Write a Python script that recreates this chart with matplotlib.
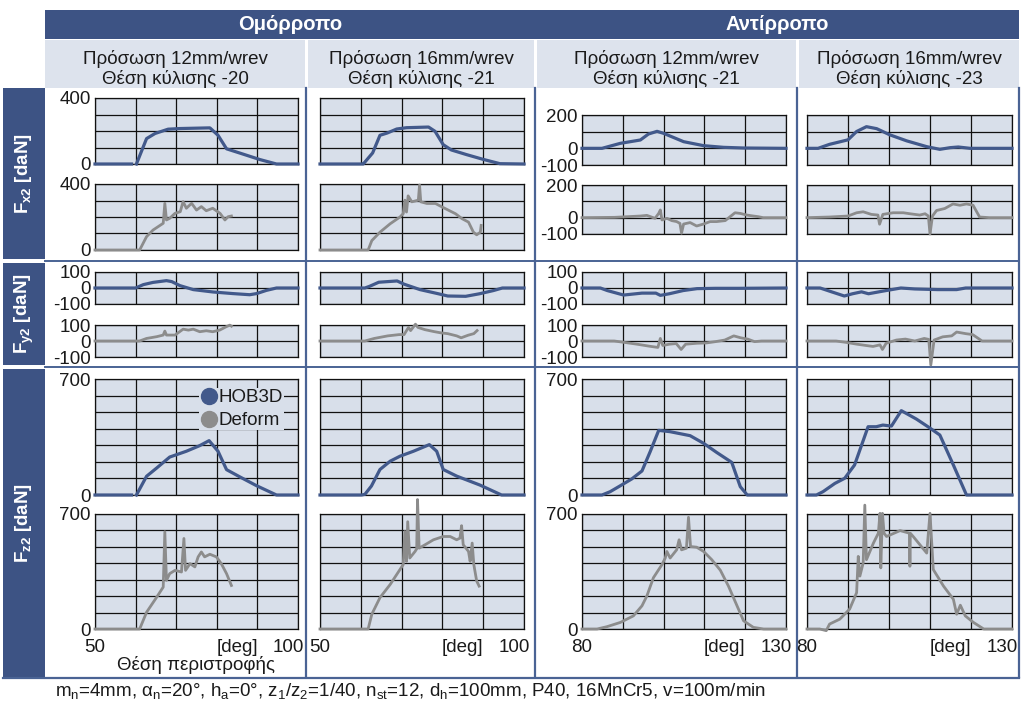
import numpy as np
import matplotlib
matplotlib.use('Agg')
import matplotlib.pyplot as plt
from matplotlib.patches import Rectangle
from matplotlib.lines import Line2D

nan = np.nan

# ---------------- DATA ----------------
group_titles = ['Ομόρροπο', 'Αντίρροπο']
col_titles = [('Πρόσωση 12mm/wrev', 'Θέση κύλισης -20'),
              ('Πρόσωση 16mm/wrev', 'Θέση κύλισης -21'),
              ('Πρόσωση 12mm/wrev', 'Θέση κύλισης -21'),
              ('Πρόσωση 16mm/wrev', 'Θέση κύλισης -23')]
row_labels = [r'$\mathbf{F}_{\mathbf{x2}}$ [daN]', r'$\mathbf{F}_{\mathbf{y2}}$ [daN]',
              r'$\mathbf{F}_{\mathbf{z2}}$ [daN]']
series_names = ['HOB3D', 'Deform']
x_axis_label = 'Θέση περιστροφής'
x_unit = '[deg]'
caption = (r'm$_\mathregular{n}$=4mm, α$_\mathregular{n}$=20°, h$_\mathregular{a}$=0°, '
           r'z$_\mathregular{1}$/z$_\mathregular{2}$=1/40, n$_\mathregular{st}$=12, '
           r'd$_\mathregular{h}$=100mm, P40, 16MnCr5, v=100m/min')

xlims = [(50, 100), (50, 100), (80, 130), (80, 130)]

# Fx2
fx_hob_1_x = [50, 59, nan, 60.2, 62.7, 64.8, 68, 71, 78.3, 80.3, 82.4, 85.7, 90.6, 94.7, 100]
fx_hob_1_y = [0, 0, nan, 0, 154, 185, 211, 215, 219, 174, 92, 66, 27, 0, 0]
fx_def_1_x = [50, 61, 62.7, 64.3, 66.8, 67.2, 67.6, 68.4, 69.7, 71, 71.7, 72.5, 73.8, 75, 76.2,
              77.4, 79, 80.8, 82, 82.8, 83.6]
fx_def_1_y = [0, 0, 81, 121, 162, 283, 182, 192, 222, 232, 293, 253, 283, 242, 263,
              238, 253, 222, 182, 202, 206]
fx_hob_2_x = [50, 60.2, 60.6, 62.9, 64.7, 66.5, 68.8, 71.2, 76.6, 78.2, 80.2, 82.2, 85.9, 90, 94.1, 100]
fx_hob_2_y = [0, 0, 0, 67, 174, 188, 212, 220, 224, 198, 117, 85, 57, 28, 2, 0]
fx_def_2_x = [50, 61.8, 62.7, 64.7, 67.2, 69.6, 70.4, 70.8, 71.2, 71.6, 72.5, 74.1, 74.4, 74.7, 76.2,
              78.3, 79.9, 81.5, 83.2, 84.8, 86.4, 87.6, 88.4, 89.3, 89.5]
fx_def_2_y = [0, 0, 57, 108, 159, 200, 220, 302, 230, 328, 292, 302, 394, 292, 282,
              282, 261, 241, 220, 190, 169, 108, 92, 108, 149]
fx_hob_3_x = [80, 84.9, 89.4, 94.3, 96.3, 98.4, 100, 104.9, 109.8, 114.7, 119.6, 130]
fx_hob_3_y = [0, 0, 30, 50, 86, 102, 90, 40, 16, 6, 2, 0]
fx_def_3_x = [80, 88, 94.3, 95.9, 97.9, 98.8, 99.2, 99.6, 100.8, 102, 103.2, 104, 104.4, 104.9,
              106.5, 108.1, 109.8, 111.4, 113, 115.1, 116.3, 117.5, 118.8, 120.4, 122, 123.2, 124.4, 130]
fx_def_3_y = [0, 2, 10, 14, -4, 26, 47, -14, -4, -18, -24, -35, -95, -39,
              -30, -51, -39, -24, -24, -18, 6, 30, 26, 16, 10, 6, 0, 0]
fx_hob_4_x = [80, 82.7, 85.5, 90, 92.1, 94.5, 97, 100.2, 104.3, 109.2, 112.4, 114.9, 116.9, 119.8, 130]
fx_hob_4_y = [0, 0, 24, 51, 101, 130, 118, 81, 45, 10, -6, 4, 8, 0, 0]
fx_def_4_x = [80, 85.5, 90, 92.1, 93.7, 95.7, 97.3, 97.7, 98.5, 101, 103.5, 105.1, 107.5, 108.8,
              109.6, 110, 110.6, 111.6, 113.6, 115.6, 117.3, 118.9, 120.5, 122.1, 124.5, 130]
fx_def_4_y = [0, 4, 10, 30, 36, 20, 16, -40, 20, 30, 30, 24, 16, 24,
              10, -100, 10, 44, 56, 84, 76, 84, 76, 4, 0, 0]

# Fy2
fy_hob_1_x = [50, 60, 61.9, 64.3, 67.6, 68.9, 70.9, 74.2, 79.1, 84, 88.1, 89.8, 92.2, 94.7, 100]
fy_hob_1_y = [0, 0, 21, 35, 46, 40, 15, -10, -25, -35, -42, -35, -15, 0, 0]
fy_def_1_x = [50, 61, 62.7, 65.2, 66.8, 67.2, 67.6, 69.7, 71.7, 73, 74.2, 75.8, 77.4, 79, 80.7,
              82.3, 83.2, 83.6]
fy_def_1_y = [0, 0, 16, 27, 37, 62, 37, 37, 74, 68, 74, 58, 64, 58, 68, 89, 99, 93]
fy_hob_2_x = [50, 61, 62.1, 64.4, 66.6, 68.9, 70.6, 74.5, 79, 81.3, 85.7, 89.1, 92.5, 94.7, 100]
fy_hob_2_y = [0, 0, 10, 36, 40, 44, 24, -10, -36, -50, -52, -36, -16, 0, 0]
fy_def_2_x = [50, 61, 63.3, 66.6, 69.4, 70.6, 71.7, 72.2, 73.4, 74, 75.7, 77.9, 79.6, 81.3, 83.5,
              84.6, 86.3, 87.7, 88.5]
fy_def_2_y = [0, 0, 16, 32, 40, 40, 85, 65, 105, 85, 71, 59, 51, 46, 32, 20, 36, 46, 65]
fy_hob_3_x = [80, 84.5, 86.2, 90.2, 94.7, 98.1, 99.2, 101.4, 104.8, 108.2, 112.7, 118.4, 130]
fy_hob_3_y = [0, 0, -16, -44, -32, -32, -46, -36, -16, -4, -2, -2, 0]
fy_def_3_x = [80, 87.9, 90.2, 93.5, 96.9, 98.6, 99.2, 99.8, 101.4, 103.1, 104.3, 105.4, 108.2,
              110.5, 112.7, 115, 117.2, 118.9, 120.6, 122.3, 124, 130]
fy_def_3_y = [0, 0, -8, -20, -34, -40, 16, -28, -20, -16, -53, -20, -14,
              -12, -4, 6, 32, 20, 12, -4, 0, 0]
fy_hob_4_x = [80, 83.2, 86, 89.1, 91.1, 93.3, 95, 98.4, 102.9, 106.3, 111.9, 116.5, 118.7, 130]
fy_hob_4_y = [0, 0, -24, -50, -36, -24, -36, -20, 0, -6, -10, -10, 0, 0]
fy_def_4_x = [80, 87.1, 89.4, 92.2, 94.4, 96.1, 97.8, 98.4, 99.3, 101.8, 104, 106.3, 108.6, 109.7,
              110.2, 111, 113.1, 115.3, 116.5, 118.7, 120.4, 122.7, 130]
fy_def_4_y = [0, 0, -8, -20, -28, -34, -24, -53, -14, 6, 12, 0, 16, 10,
              -150, 6, 26, 32, 56, 46, 40, 0, 0]

# Fz2
fz_hob_1_x = [50, 59, nan, 60.2, 62.7, 65.2, 68.4, 72.5, 75.8, 78.1, 80.3, 82.4, 85.7, 89.8, 94.7, 100]
fz_hob_1_y = [0, 0, nan, 0, 113, 163, 229, 264, 298, 328, 264, 153, 109, 56, 0, 0]
fz_def_1_x = [50, 61, 62.7, 65.2, 66.8, 67.2, 67.6, 68.4, 69.7, 71.3, 71.9, 72.3, 73.4, 74.6,
              75.4, 76.2, 77, 78.3, 79.9, 81.1, 82.4, 83.6]
fz_def_1_y = [0, 0, 102, 194, 255, 592, 296, 337, 357, 347, 551, 357, 398, 378,
              439, 469, 439, 455, 439, 398, 337, 265]
fz_hob_2_x = [50, 60.2, 61, 62.6, 64.7, 67.2, 69.6, 72.9, 76.8, 78.6, 80.2, 83.5, 89.2, 94.5, 100]
fz_hob_2_y = [0, 0, 4, 54, 154, 204, 234, 264, 304, 264, 154, 114, 60, 0, 0]
fz_def_2_x = [50, 61.8, 62.7, 64.7, 67.2, 69.6, 70.4, 70.8, 71.2, 71.5, 72, 73.3, 73.7, 73.9,
              74.3, 75.7, 77.8, 80.2, 81.9, 83.5, 84.3, 84.7, 85.1, 86.4, 86.8, 87.3, 87.7, 88.4, 89]
fz_def_2_y = [0, 0, 90, 191, 271, 362, 392, 593, 412, 653, 432, 472, 488, 788,
              492, 512, 543, 563, 563, 543, 553, 629, 513, 472, 412, 523, 392, 292, 261]
fz_hob_3_x = [80, 84.9, 86.9, 89.4, 92.2, 94.7, 96.7, 98.8, 101.6, 106.5, 109.8, 113, 116.7,
              118.8, 120.5, 130]
fz_hob_3_y = [0, 0, 20, 56, 97, 145, 261, 390, 382, 358, 312, 257, 197, 50, 0, 0]
fz_def_3_x = [80, 83.7, 86.1, 89.4, 92.6, 94.7, 95.9, 97.5, 99.6, 100.4, 100.8, 101.6, 103.2,
              103.8, 104.4, 105.6, 106.1, 106.6, 108.1, 109.8, 111.8, 113.9, 115.9, 118, 119.6,
              122, 124.5, 130]
fz_def_3_y = [0, 0, 14, 40, 80, 141, 201, 312, 392, 432, 472, 432, 482,
              543, 482, 492, 680, 502, 498, 472, 422, 358, 261, 141, 50,
              10, 0, 0]
fz_hob_4_x = [80, 82.3, 83.9, 86.8, 89.2, 91.6, 94.9, 96.9, 98.5, 100.6, 103, 106.7, 109.5,
              112.4, 115.7, 118.9, 120.5, 130]
fz_hob_4_y = [0, 0, 20, 70, 101, 181, 412, 412, 422, 416, 509, 458, 412, 362, 181, 0, 0, 0]
fz_def_4_x = [80, 83.1, 84.7, 85.5, 88, 90.4, 92.1, 92.5, 92.9, 93.7, 94.1, 94.5, 96.2, 97.4,
              97.8, 98, 98.4, 98.8, 99.4, 102.7, 105.0, 105.1, 105.2, 105.9, 109.2, 110, 110.8,
              113.3, 115.7, 116.5, 117.4, 118.6, 120.6, 123.1, 130]
fz_def_4_y = [0, 0, -10, 30, 60, 121, 221, 442, 322, 402, 754, 422, 523, 583,
              704, 372, 704, 583, 563, 599, 583, 382, 583, 563, 462, 704, 362,
              261, 181, 90, 145, 80, 40, 0, 0]

# y-axis settings per row (left group / right group)
fx_ticks_a, fx_labels_a = [0, 100, 200, 300, 400], ['0', '', '', '', '400']
fx_ticks_b, fx_labels_b = [-100, 0, 100, 200], ['-100', '0', '', '200']
fy_ticks, fy_labels = [-100, 0, 100], ['-100', '0', '100']
fz_ticks, fz_labels = [0, 100, 200, 300, 400, 500, 600, 700], ['0', '', '', '', '', '', '', '700']

# ---------------- STYLE ----------------
plt.rcParams['font.family'] = ['Liberation Sans', 'DejaVu Sans']
plt.rcParams['mathtext.fontset'] = 'custom'
plt.rcParams['mathtext.rm'] = 'Liberation Sans'
plt.rcParams['mathtext.it'] = 'Liberation Sans:italic'
plt.rcParams['mathtext.bf'] = 'Liberation Sans:bold'

DARK = '#3d5384'
LIGHT = '#dde3ed'
FACE = '#d8dfea'
FRAME = '#4a6394'
HOB_C = '#42598b'
DEF_C = '#8c8c8c'
FS = 13.5

W, H = 1024, 706
fig = plt.figure(figsize=(W / 100, H / 100), dpi=100)
bg = fig.add_axes([0, 0, 1, 1], zorder=0)
bg.set_xlim(0, W)
bg.set_ylim(H, 0)
bg.axis('off')


def rect(x0, y0, x1, y1, color):
    bg.add_patch(Rectangle((x0, y0), x1 - x0, y1 - y0, facecolor=color, edgecolor='none'))


# header bars
rect(45, 10, 1019, 39, DARK)
bg.text(290, 24.5, group_titles[0], color='white', fontsize=14.5, fontweight='bold',
        ha='center', va='center')
bg.text(777, 24.5, group_titles[1], color='white', fontsize=14.5, fontweight='bold',
        ha='center', va='center')
sub_cells = [(45, 305), (308, 534), (537, 796), (799, 1019)]
for (a, b), (t1, t2) in zip(sub_cells, col_titles):
    rect(a, 40, b, 88, LIGHT)
    bg.text((a + b) / 2, 64, t1, fontsize=FS, ha='center', va='baseline', color='#1a1a1a')
    bg.text((a + b) / 2, 84, t2, fontsize=FS, ha='center', va='baseline', color='#1a1a1a')

# left row labels
row_blocks = [(88, 259), (263, 365), (369, 677)]
for (t, b), lab in zip(row_blocks, row_labels):
    rect(3, t, 45, b, DARK)
    bg.text(24, (t + b) / 2, lab, color='white', fontsize=FS, fontweight='bold',
            rotation=90, ha='center', va='center')

# frame lines
for xv in [306, 535, 797]:
    bg.plot([xv, xv], [88, 677], color=FRAME, lw=1.6)
bg.plot([1019, 1019], [88, 677], color=FRAME, lw=1.6)
for yv in [261, 367]:
    bg.plot([45, 1019], [yv, yv], color=FRAME, lw=1.4)
bg.plot([3, 1019], [677.5, 677.5], color=FRAME, lw=1.6)

bg.text(196, 665, x_axis_label, fontsize=FS, ha='center', va='center', color='#1a1a1a')
bg.text(55, 691, caption, fontsize=13.5, ha='left', va='center', color='#1a1a1a')

# ---------------- PANELS ----------------
col_x = [(95, 298), (320, 524), (582, 786), (807, 1012)]
rows_y = {
    'fx': [((98, 164), (184, 250)), ((98, 164), (184, 250)),
           ((115, 165), (185, 234)), ((115, 165), (185, 234))],
    'fy': [((272, 304), (325, 357))] * 4,
    'fz': [((379, 495), (514, 629))] * 4,
}
data = {
    'fx': [(fx_hob_1_x, fx_hob_1_y, fx_def_1_x, fx_def_1_y),
           (fx_hob_2_x, fx_hob_2_y, fx_def_2_x, fx_def_2_y),
           (fx_hob_3_x, fx_hob_3_y, fx_def_3_x, fx_def_3_y),
           (fx_hob_4_x, fx_hob_4_y, fx_def_4_x, fx_def_4_y)],
    'fy': [(fy_hob_1_x, fy_hob_1_y, fy_def_1_x, fy_def_1_y),
           (fy_hob_2_x, fy_hob_2_y, fy_def_2_x, fy_def_2_y),
           (fy_hob_3_x, fy_hob_3_y, fy_def_3_x, fy_def_3_y),
           (fy_hob_4_x, fy_hob_4_y, fy_def_4_x, fy_def_4_y)],
    'fz': [(fz_hob_1_x, fz_hob_1_y, fz_def_1_x, fz_def_1_y),
           (fz_hob_2_x, fz_hob_2_y, fz_def_2_x, fz_def_2_y),
           (fz_hob_3_x, fz_hob_3_y, fz_def_3_x, fz_def_3_y),
           (fz_hob_4_x, fz_hob_4_y, fz_def_4_x, fz_def_4_y)],
}


def yset(row, c):
    if row == 'fx':
        return (fx_ticks_a, fx_labels_a) if c < 2 else (fx_ticks_b, fx_labels_b)
    if row == 'fy':
        return fy_ticks, fy_labels
    return fz_ticks, fz_labels


def make_ax(l, t, r, b):
    ax = fig.add_axes([l / W, 1 - b / H, (r - l) / W, (b - t) / H], zorder=2)
    ax.set_facecolor(FACE)
    for s in ax.spines.values():
        s.set_color('#111111')
        s.set_linewidth(0.9)
    return ax


legend_ax = None
for row in ['fx', 'fy', 'fz']:
    for c in range(4):
        xl = xlims[c]
        ticks, labels = yset(row, c)
        hx, hy, dx, dy = data[row][c]
        for k, (t, b) in enumerate(rows_y[row][c]):
            ax = make_ax(col_x[c][0], t, col_x[c][1], b)
            ax.set_xlim(*xl)
            ax.set_ylim(ticks[0], ticks[-1])
            ax.set_xticks(np.arange(xl[0], xl[1] + 1, 10))
            ax.set_yticks(ticks)
            ax.grid(True, color='#111111', lw=0.9)
            ax.set_axisbelow(True)
            ax.tick_params(length=0, labelbottom=False, labelsize=FS, pad=3,
                           labelcolor='#1a1a1a')
            if c in (0, 2):
                ax.set_yticklabels(labels)
            else:
                ax.tick_params(labelleft=False)
            if k == 0:
                ax.plot(hx, hy, color=HOB_C, lw=2.3, clip_on=False, zorder=3)
                if row == 'fz' and c == 0:
                    legend_ax = ax
            else:
                ax.plot(dx, dy, color=DEF_C, lw=2.0, clip_on=False, zorder=3)
                if row == 'fz':
                    ax.text(0, -0.088, str(xl[0]), transform=ax.transAxes, fontsize=FS,
                            ha='center', va='top', color='#1a1a1a')
                    ax.text(0.70, -0.088, x_unit, transform=ax.transAxes, fontsize=FS,
                            ha='center', va='top', color='#1a1a1a')
                    ax.text(1.03, -0.088, str(xl[1]), transform=ax.transAxes, fontsize=FS,
                            ha='right', va='top', color='#1a1a1a')

handles = [Line2D([], [], marker='o', ls='none', color=HOB_C, markersize=11.5),
           Line2D([], [], marker='o', ls='none', color=DEF_C, markersize=11.5)]
leg = legend_ax.legend(handles, series_names, loc='upper right', bbox_to_anchor=(0.93, 0.92),
                       fontsize=FS, frameon=True, facecolor=FACE, edgecolor='none', framealpha=1,
                       borderpad=0.05, handletextpad=0.0, labelspacing=0.3, handlelength=1.0,
                       borderaxespad=0.0, fancybox=False)
for tx in leg.get_texts():
    tx.set_color('#1a1a1a')

fig.savefig('out.png', dpi=100)
